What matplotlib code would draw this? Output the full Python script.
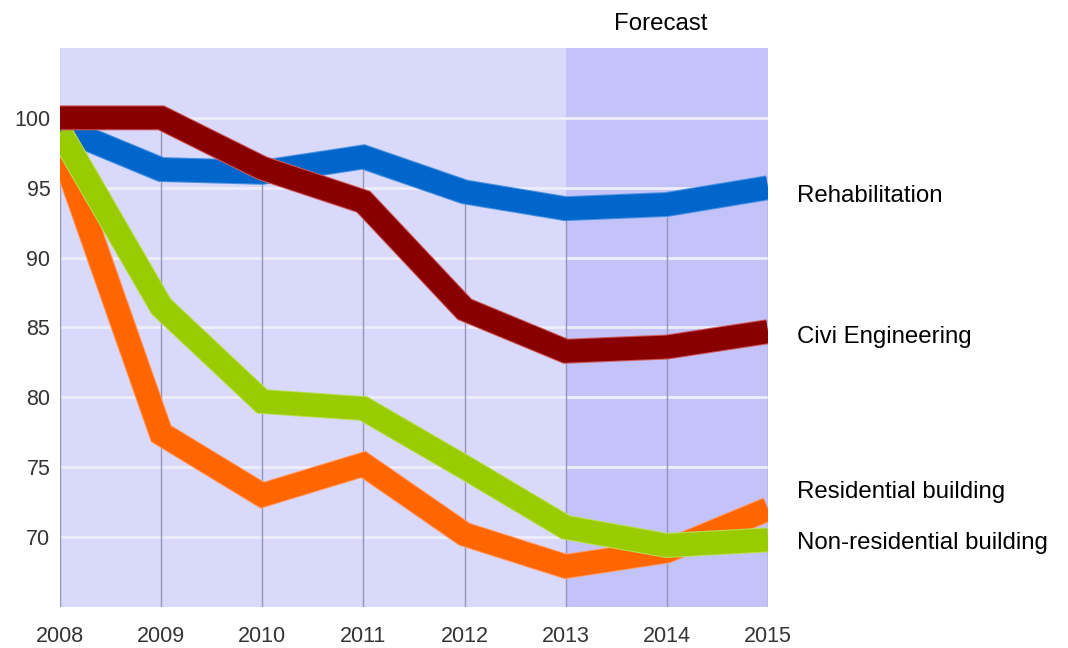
import matplotlib.pyplot as plt
import matplotlib.patheffects as pe

# construction output index by sector, 2008 = 100 (2013-2015 forecast)
years = [2008, 2009, 2010, 2011, 2012, 2013, 2014, 2015]
rehab = [99.3, 96.3, 96.1, 97.2, 94.7, 93.5, 93.8, 95.0]
civil = [100.0, 100.0, 96.4, 94.0, 86.3, 83.3, 83.6, 84.7]
resid = [98.0, 77.4, 73.0, 75.2, 70.2, 67.9, 69.0, 72.0]
nonres = [99.0, 86.5, 79.7, 79.2, 75.0, 70.7, 69.4, 69.8]
forecast_from = 2013

labels = ['Rehabilitation', 'Civi Engineering', 'Residential building',
          'Non-residential building']
label_y = [0.688, 0.471, 0.2315, 0.153]   # baselines, figure fraction

plt.rcParams['font.family'] = ['Liberation Sans', 'DejaVu Sans']

fig = plt.figure(figsize=(10.68, 6.48), dpi=100)
ax = fig.add_axes([0.0562, 0.0633, 0.6629, 0.8627])

ax.set_facecolor('#d9d9fb')
ax.axvspan(forecast_from, years[-1], color='#c3c3f9', zorder=0, lw=0)

for v in range(70, 101, 5):
    ax.axhline(v, color='#eeeefd', lw=2, zorder=1)

# drop lines: from the floor up to the highest series in each year
tops = [max(vals) for vals in zip(rehab, civil, resid, nonres)]
ax.vlines(years, 65, tops, color='#9595b8', lw=1, zorder=1)

def draw(vals, col, halo):
    ax.plot(years, vals, color=col, lw=16.5, solid_joinstyle='miter',
            solid_capstyle='butt', zorder=3,
            path_effects=[pe.Stroke(linewidth=18, foreground=halo),
                          pe.Normal()])

draw(rehab, '#0066cc', '#4d94e0')
draw(resid, '#ff6600', '#ff9a66')
draw(nonres, '#99cc00', '#bbdd55')
draw(civil, '#880000', '#d05a5a')

ax.set_xlim(years[0], years[-1])
ax.set_ylim(65, 105)
ax.set_xticks(years)
ax.set_yticks(range(70, 101, 5))
ax.tick_params(length=0, labelsize=15.5, labelcolor='#333333')
ax.tick_params(axis='x', pad=14)
ax.tick_params(axis='y', pad=7)
for s in ax.spines.values():
    s.set_visible(False)

for txt, y in zip(labels, label_y):
    fig.text(0.7463, y, txt, fontsize=17.3, va='baseline', color='black')

fig.text(0.619, 0.9537, 'Forecast', fontsize=17.3, va='baseline', ha='center',
         color='black')

fig.savefig('out.png', dpi=100)
